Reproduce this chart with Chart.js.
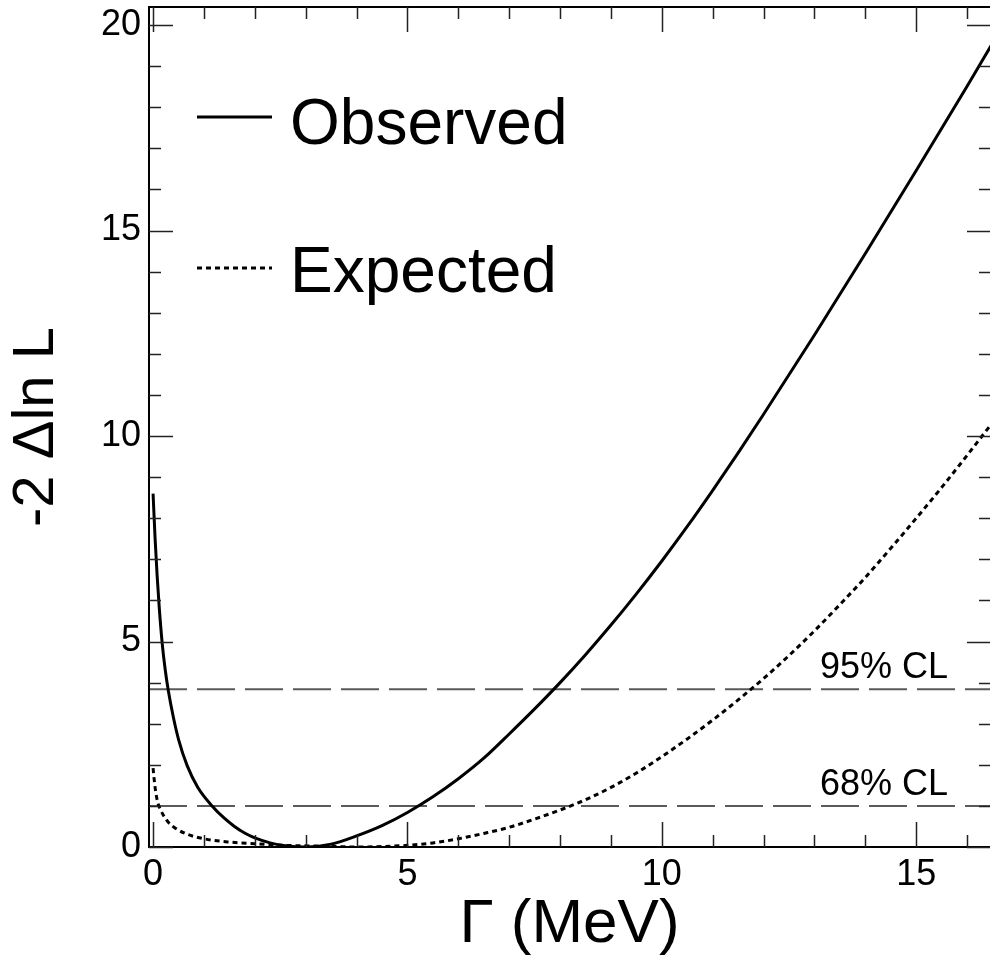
<!DOCTYPE html>
<html><head><meta charset="utf-8">
<script src="https://cdn.jsdelivr.net/npm/chart.js@4.4.1/dist/chart.umd.min.js"></script>
<style>html,body{margin:0;padding:0;background:#fff;overflow:hidden}#wrap{width:990px;height:965px}</style>
</head><body><div id="wrap"><canvas id="c" width="990" height="965"></canvas></div>
<script>
// ---- data ----
const obsGamma  = [0, 0.04, 0.08, 0.12, 0.18, 0.24, 0.3, 0.4, 0.5, 0.67, 0.88, 1.16, 1.4, 1.6, 1.8, 2.0, 2.3, 2.6, 3.0, 3.5, 4.0, 4.5, 5.0, 5.5, 6.0, 6.5, 7.0, 7.5, 8.0, 8.5, 9.0, 9.5, 10.0, 10.5, 11.0, 11.5, 12.0, 13.0, 14.0, 15.0, 16.0, 16.5];
const obsValues = [8.6, 7.5, 6.6, 5.85, 4.95, 4.3, 3.8, 3.15, 2.62, 1.98, 1.45, 1.0, 0.7, 0.5, 0.34, 0.22, 0.1, 0.03, 0.0, 0.07, 0.27, 0.52, 0.84, 1.22, 1.66, 2.16, 2.75, 3.36, 4.0, 4.68, 5.4, 6.16, 6.96, 7.8, 8.68, 9.59, 10.53, 12.46, 14.44, 16.46, 18.51, 19.56];
const expGamma  = [0, 0.03, 0.06, 0.1, 0.15, 0.2, 0.3, 0.45, 0.65, 1.0, 1.5, 2.0, 2.6, 3.3, 4.0, 4.5, 5.0, 5.5, 6.0, 6.5, 7.0, 7.5, 8.0, 8.5, 9.0, 9.5, 10.0, 10.5, 11.0, 11.5, 12.0, 12.5, 13.0, 13.5, 14.0, 14.5, 15.0, 15.5, 16.0, 16.5];
const expValues = [1.92, 1.55, 1.28, 1.05, 0.9, 0.78, 0.6, 0.45, 0.32, 0.2, 0.12, 0.08, 0.04, 0.02, 0.0, 0.01, 0.04, 0.1, 0.2, 0.33, 0.48, 0.68, 0.9, 1.15, 1.45, 1.8, 2.2, 2.63, 3.09, 3.58, 4.1, 4.66, 5.26, 5.9, 6.56, 7.27, 8.0, 8.75, 9.53, 10.33];
const clLevels  = [3.84, 1.0];
const clLabels  = ['95% CL', '68% CL'];
const seriesNames = ['Observed', 'Expected'];
const xTickValues = [0, 5, 10, 15];
const yTickValues = [0, 5, 10, 15, 20];
const xTitle = 'Γ (MeV)';
const yTitle = '-2 Δln L';
const X_MIN = -0.08, X_MAX = 16.45, Y_MIN = 0, Y_MAX = 20.44;

const FONT = '"Liberation Sans", Arial, sans-serif';
const toPts = (xs, ys) => xs.map((v, i) => ({x: v, y: ys[i]}));

const clDatasets = clLevels.map((lv, i) => ({
  label: clLabels[i],
  data: [{x: X_MIN, y: lv}, {x: X_MAX, y: lv}],
  borderColor: '#5a5a5a', borderWidth: 2, borderDash: [38, 10],
  pointRadius: 0, fill: false, order: 3
}));

const framePlugin = {
  id: 'frame',
  afterDatasetsDraw(chart) {
    const {ctx, chartArea: a, scales: {x, y}} = chart;
    ctx.save();
    // CL labels
    ctx.fillStyle = '#000';
    ctx.font = '36px ' + FONT;
    ctx.textAlign = 'left';
    ctx.textBaseline = 'alphabetic';
    clLevels.forEach((lv, i) => {
      ctx.fillText(clLabels[i], a.right - 170, y.getPixelForValue(lv) - 11);
    });
    // legend
    const legY = [a.top + 110, a.top + 261];
    const legBase = [a.top + 137, a.top + 285];
    ctx.lineCap = 'butt';
    ctx.strokeStyle = '#000';
    ctx.lineWidth = 3;
    ctx.setLineDash([]);
    ctx.beginPath(); ctx.moveTo(a.left + 48, legY[0]); ctx.lineTo(a.left + 123, legY[0]); ctx.stroke();
    ctx.setLineDash([5, 4]);
    ctx.beginPath(); ctx.moveTo(a.left + 48, legY[1]); ctx.lineTo(a.left + 123, legY[1]); ctx.stroke();
    ctx.setLineDash([]);
    ctx.font = '64px ' + FONT;
    seriesNames.forEach((n, i) => ctx.fillText(n, a.left + 141, legBase[i]));
    // frame
    ctx.strokeStyle = '#000';
    ctx.lineWidth = 2;
    ctx.beginPath();
    ctx.moveTo(a.right, a.top); ctx.lineTo(a.left, a.top);
    ctx.lineTo(a.left, a.bottom); ctx.lineTo(a.right, a.bottom);
    ctx.stroke();
    // inward ticks
    ctx.strokeStyle = '#222';
    ctx.lineWidth = 1.5;
    ctx.beginPath();
    for (let v = Math.ceil(x.min); v <= x.max; v++) {
      const px = Math.round(x.getPixelForValue(v)) + 0.5;
      const L = (v % 5 === 0) ? 25 : 12;
      ctx.moveTo(px, a.bottom); ctx.lineTo(px, a.bottom - L);
      ctx.moveTo(px, a.top); ctx.lineTo(px, a.top + L);
    }
    for (let v = Math.ceil(y.min); v <= y.max; v++) {
      const py = Math.round(y.getPixelForValue(v)) + 0.5;
      const L = (v % 5 === 0) ? 24 : 12;
      ctx.moveTo(a.left, py); ctx.lineTo(a.left + L, py);
      ctx.moveTo(a.right, py); ctx.lineTo(a.right - L + 1, py);
    }
    ctx.stroke();
    ctx.restore();
  }
};

new Chart(document.getElementById('c'), {
  type: 'line',
  data: {
    datasets: [
      { label: seriesNames[0], data: toPts(obsGamma, obsValues), borderColor: '#000', borderWidth: 3,
        pointRadius: 0, fill: false, cubicInterpolationMode: 'monotone', order: 1 },
      { label: seriesNames[1], data: toPts(expGamma, expValues), borderColor: '#000', borderWidth: 3,
        borderDash: [5, 4], pointRadius: 0, fill: false, cubicInterpolationMode: 'monotone', order: 2 },
      ...clDatasets
    ]
  },
  options: {
    responsive: false, devicePixelRatio: 1, animation: false,
    layout: { padding: { top: 7, left: 0, right: 0, bottom: 0 } },
    plugins: { legend: { display: false }, tooltip: { enabled: false } },
    scales: {
      x: {
        type: 'linear', min: X_MIN, max: X_MAX,
        afterFit: s => { s.height = 118; s.paddingLeft = 0; s.paddingRight = 0; },
        afterBuildTicks: s => { s.ticks = xTickValues.map(v => ({value: v})); },
        grid: { display: false, drawTicks: false },
        border: { display: false },
        ticks: { font: { family: FONT, size: 36 }, color: '#000', padding: 6, maxRotation: 0, autoSkip: false },
        title: { display: true, text: xTitle, color: '#000', font: { family: FONT, size: 62, lineHeight: 1 }, padding: { top: 0, bottom: 9 } }
      },
      y: {
        type: 'linear', min: Y_MIN, max: Y_MAX,
        afterFit: s => { s.width = 149; s.paddingTop = 0; s.paddingBottom = 0; },
        afterBuildTicks: s => { s.ticks = yTickValues.map(v => ({value: v})); },
        grid: { display: false, drawTicks: false },
        border: { display: false },
        ticks: { font: { family: FONT, size: 36 }, color: '#000', padding: 8, autoSkip: false },
        title: { display: true, text: yTitle, color: '#000', font: { family: FONT, size: 58, lineHeight: 1 }, padding: { top: 8, bottom: 0 } }
      }
    }
  },
  plugins: [framePlugin]
});
</script></body></html>
